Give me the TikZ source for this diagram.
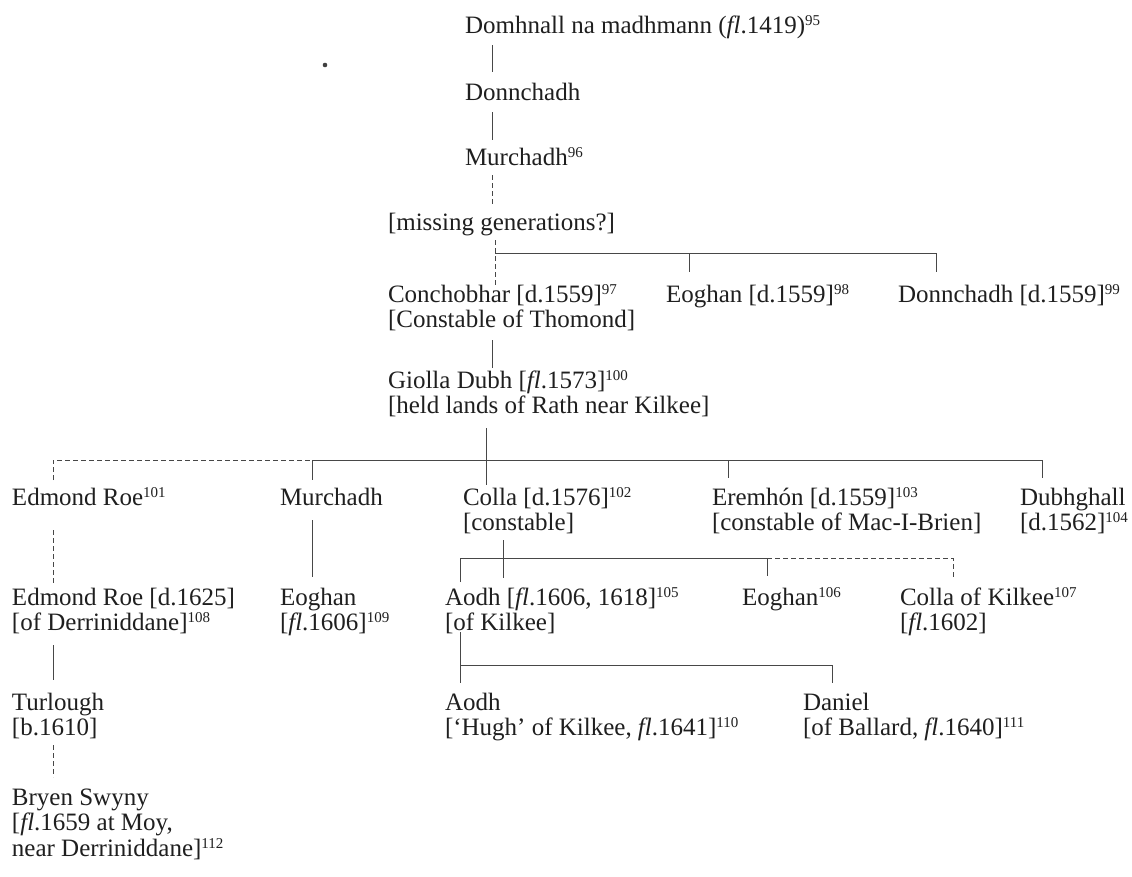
\documentclass[tikz,border=0pt]{standalone}
\usepackage{fontspec}
\setmainfont{Liberation Serif}
\newcommand\sps[1]{\raisebox{8pt}{\fontsize{15}{15}\selectfont #1}}
\newcommand\flit{\textit{fl}}
\begin{document}
\begin{tikzpicture}[x=1pt,y=-1pt,
  every node/.style={font=\fontsize{25}{25.5}\selectfont, inner sep=0pt, outer sep=0pt, anchor=base west, align=left, text=black!88},
  kin/.style={draw=black!72, line width=0.9pt},
  kindash/.style={kin, dash pattern=on 5pt off 3pt}]
\useasboundingbox (0,0) rectangle (1132,876);
\fill[white] (0,0) rectangle (1132,876);
\fill[black!75] (325,65) circle (2.3pt);
% people (y = baseline of the LAST line)
\node (dom) at (465,33) {Domhnall na madhmann (\flit.1419)\sps{95}};
\node (don) at (465,100) {Donnchadh};
\node (mur) at (465,165) {Murchadh\sps{96}};
\node (miss) at (388,230) {[missing generations?]};
\node (con) at (388,327.5) {Conchobhar [d.1559]\sps{97}\\{[Constable of Thomond]}};
\node (eog1) at (666,302) {Eoghan [d.1559]\sps{98}};
\node (don2) at (898,302) {Donnchadh [d.1559]\sps{99}};
\node (gio) at (388,413.5) {Giolla Dubh [\flit.1573]\sps{100}\\{[held lands of Rath near Kilkee]}};
\node (edm) at (12,505) {Edmond Roe\sps{101}};
\node (mur2) at (280,505) {Murchadh};
\node (col) at (463,530.5) {Colla [d.1576]\sps{102}\\{[constable]}};
\node (ere) at (712,530.5) {Eremhón [d.1559]\sps{103}\\{[constable of Mac-I-Brien]}};
\node (dub) at (1020,530.5) {Dubhghall\\{[d.1562]\sps{104}}};
\node (edm2) at (12,630.5) {Edmond Roe [d.1625]\\{[of Derriniddane]\sps{108}}};
\node (eog2) at (280,630.5) {Eoghan\\{[\flit.1606]\sps{109}}};
\node (aod) at (445,630.5) {Aodh [\flit.1606, 1618]\sps{105}\\{[of Kilkee]}};
\node (eog3) at (742,605) {Eoghan\sps{106}};
\node (cok) at (900,630.5) {Colla of Kilkee\sps{107}\\{[\flit.1602]}};
\node (tur) at (12,735.5) {Turlough\\{[b.1610]}};
\node (aod2) at (445,735.5) {Aodh\\{[‘Hugh’ of Kilkee, \flit.1641]\sps{110}}};
\node (dan) at (803,735.5) {Daniel\\{[of Ballard, \flit.1640]\sps{111}}};
\node (bry) at (12,856) {Bryen Swyny\\{[\flit.1659 at Moy,}\\near Derriniddane]\sps{112}};
% junction coordinates
\coordinate (a1) at (492,45);  \coordinate (a2) at (492,72);
\coordinate (b1) at (492,112); \coordinate (b2) at (492,140);
\coordinate (c1) at (492,175); \coordinate (c2) at (492,205);
\coordinate (d1) at (495,240); \coordinate (d2) at (495,285);
\coordinate (dh) at (495,253); \coordinate (de) at (689,253); \coordinate (dd) at (936,253);
\coordinate (e1) at (492,340); \coordinate (e2) at (492,368);
\coordinate (g1) at (486,428); \coordinate (g2) at (486,485);
\coordinate (gh) at (53,460); \coordinate (gm) at (312,460);
\coordinate (gr) at (728,460); \coordinate (gd) at (1042,460);
\coordinate (f1) at (53,530);  \coordinate (f2) at (53,583);
\coordinate (m1) at (312,520); \coordinate (m2) at (312,577);
\coordinate (k1) at (503,540); \coordinate (k2) at (503,578);
\coordinate (kh) at (460,558); \coordinate (ke) at (767,558); \coordinate (kc) at (953,558);
\coordinate (h1) at (53,645);  \coordinate (h2) at (53,680);
\coordinate (q1) at (460,632); \coordinate (q2) at (460,683);
\coordinate (qh) at (460,665); \coordinate (qd) at (832,665);
\coordinate (t1) at (53,745);  \coordinate (t2) at (53,777);
% connectors
\draw[kin] (a1) -- (a2);
\draw[kin] (b1) -- (b2);
\draw[kindash] (c1) -- (c2);
\draw[kindash] (d1) -- (d2);
\draw[kin] (dh) -- (dd) -- ++(0,19);
\draw[kin] (de) -- ++(0,19);
\draw[kin] (e1) -- (e2);
\draw[kin] (g1) -- (g2);
\draw[kindash] (gh) ++(0,20) -- (gh) -- (gm);
\draw[kin] (gm) -- (gd) -- ++(0,18);
\draw[kin] (gm) -- ++(0,20);
\draw[kin] (gr) -- ++(0,18);
\draw[kindash] (f1) -- (f2);
\draw[kin] (m1) -- (m2);
\draw[kin] (k1) -- (k2);
\draw[kin] (kh) ++(0,24) -- (kh) -- (ke) -- ++(0,18);
\draw[kindash] (ke) -- (kc) -- ++(0,20);
\draw[kin] (h1) -- (h2);
\draw[kin] (q1) -- (q2);
\draw[kin] (qh) -- (qd) -- ++(0,18);
\draw[kindash] (t1) -- (t2);
\end{tikzpicture}
\end{document}
